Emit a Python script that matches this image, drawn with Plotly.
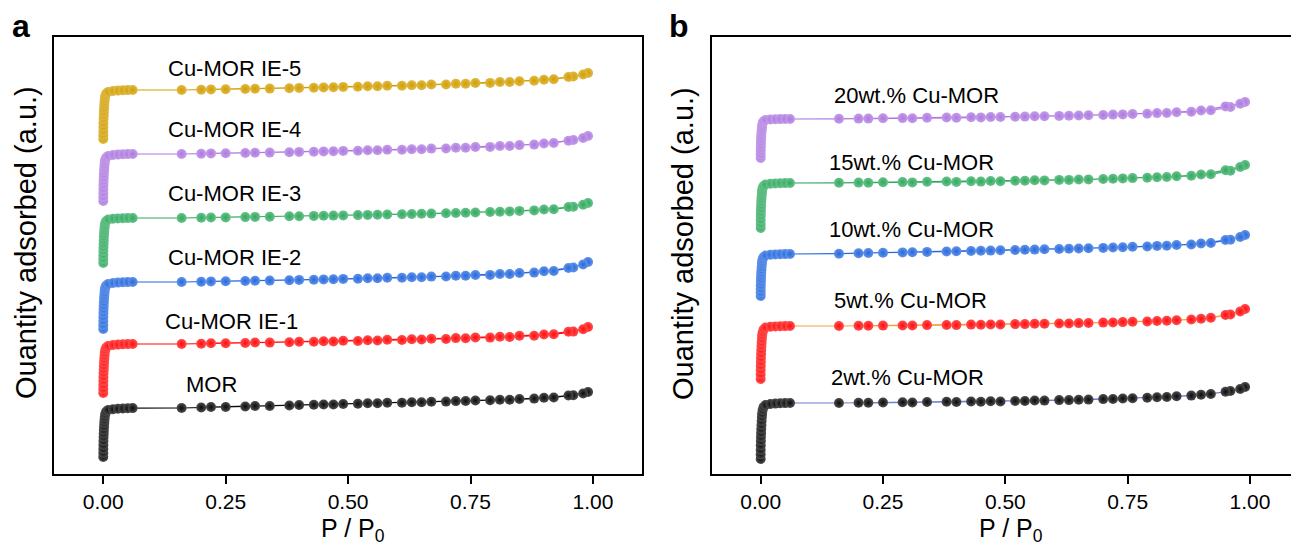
import plotly.graph_objects as go

# ---------------- shared relative-pressure grids (P/P0) ----------------
P_LOW = [0.00002, 0.00005, 0.0001, 0.0002, 0.0004, 0.0006, 0.0009, 0.0012, 0.0016, 0.002,
         0.0025, 0.003, 0.004, 0.006, 0.01, 0.02, 0.03, 0.04, 0.05, 0.06]
P_ADS = [0.16, 0.20, 0.25, 0.29, 0.34, 0.38, 0.43, 0.47, 0.52, 0.56,
         0.61, 0.65, 0.70, 0.74, 0.79, 0.83, 0.88, 0.92, 0.96, 0.99]
P_DES = [0.98, 0.95, 0.90, 0.85, 0.81, 0.76, 0.72, 0.67, 0.63, 0.58,
         0.54, 0.49, 0.45, 0.40, 0.31, 0.22]

X_TICKS = [0.0, 0.25, 0.5, 0.75, 1.0]
X_TICK_LABELS = ["0.00", "0.25", "0.50", "0.75", "1.00"]

# ---------------- panel a : quantity adsorbed (a.u.) ----------------
A_NAMES = ["MOR", "Cu-MOR IE-1", "Cu-MOR IE-2", "Cu-MOR IE-3", "Cu-MOR IE-4", "Cu-MOR IE-5"]

MOR_LOW = [0, 4, 8, 12, 16, 20, 23.5, 27, 30.5, 34, 37, 40, 43, 45.5, 47, 47.8, 48.2, 48.5, 48.7, 48.9]
MOR_ADS = [49, 49.5, 50.1, 50.5, 51.1, 51.6, 52.2, 52.6, 53.2, 53.7, 54.3, 54.8, 55.4, 56, 56.7, 57.3, 58.4, 59.6, 61.8, 65]
MOR_DES = [63.6, 61.5, 59.3, 58, 57.2, 56.5, 55.9, 55.3, 54.8, 54.2, 53.7, 53.1, 52.6, 52, 51, 50]

IE1_LOW = [0, 4, 8, 12, 16, 20, 23.5, 27, 30.5, 34, 37, 40, 43, 45.5, 47, 48, 48.4, 48.7, 48.9, 49]
IE1_ADS = [49, 49.3, 49.7, 50, 50.4, 50.8, 51.2, 51.6, 52.1, 52.5, 53, 53.5, 54.1, 54.7, 55.4, 56.1, 57.3, 58.7, 61.4, 66]
IE1_DES = [63.8, 61.2, 58.6, 57.2, 56.3, 55.5, 54.9, 54.3, 53.8, 53.2, 52.8, 52.3, 51.8, 51.3, 50.5, 49.8]

IE2_LOW = [0, 4, 8, 12, 16, 19.5, 23, 26.5, 30, 33, 36, 39, 41.5, 43.5, 45, 46, 46.4, 46.7, 46.9, 47]
IE2_ADS = [47, 47.3, 47.7, 48, 48.4, 48.8, 49.3, 49.7, 50.2, 50.7, 51.3, 51.8, 52.5, 53.2, 54.1, 55, 56.4, 58, 61.5, 67]
IE2_DES = [64.5, 61, 57.8, 56, 55, 54, 53.2, 52.4, 51.8, 51.2, 50.7, 50.1, 49.6, 49.1, 48.3, 47.6]

IE3_LOW = [0, 4, 8, 12, 15.5, 19, 22.5, 26, 29, 32, 35, 37.5, 40, 42, 43.5, 44.3, 44.6, 44.8, 44.9, 45]
IE3_ADS = [45, 45.3, 45.6, 45.9, 46.3, 46.7, 47.1, 47.4, 47.9, 48.3, 48.8, 49.2, 49.8, 50.3, 51, 51.6, 52.6, 53.8, 56.2, 60]
IE3_DES = [58.3, 56, 53.5, 52.1, 51.3, 50.5, 50, 49.4, 49, 48.5, 48.1, 47.6, 47.2, 46.8, 46.1, 45.5]

IE4_LOW = [0, 4, 8, 12, 16, 19.5, 23, 26.5, 30, 33, 36, 39, 41.5, 43.5, 45, 46, 46.4, 46.7, 46.9, 47]
IE4_ADS = [47, 47.3, 47.7, 48, 48.4, 48.8, 49.3, 49.7, 50.2, 50.7, 51.3, 51.8, 52.5, 53.2, 54.1, 55, 56.4, 58, 61, 65]
IE4_DES = [63, 60.3, 57.5, 55.9, 55, 54, 53.2, 52.4, 51.8, 51.2, 50.7, 50.1, 49.6, 49.1, 48.3, 47.6]

IE5_LOW = [0, 4, 8, 12, 16, 20, 23.5, 27, 30.5, 34, 37, 40, 43, 45.5, 47, 48, 48.4, 48.7, 48.9, 49]
IE5_ADS = [49, 49.3, 49.7, 50, 50.4, 50.8, 51.3, 51.7, 52.2, 52.7, 53.3, 53.8, 54.5, 55.2, 56.1, 57, 58.3, 59.8, 62.4, 66]
IE5_DES = [64.5, 62, 59.3, 57.8, 56.9, 56, 55.2, 54.4, 53.8, 53.2, 52.7, 52.1, 51.6, 51.1, 50.3, 49.6]

# ---------------- panel b ----------------
B_NAMES = ["2wt.% Cu-MOR", "5wt.% Cu-MOR", "10wt.% Cu-MOR", "15wt.% Cu-MOR", "20wt.% Cu-MOR"]

W2_LOW = [0, 4.5, 9, 13.5, 18, 22, 26, 30, 34, 38, 42, 45.5, 49, 52, 54, 55, 55.4, 55.7, 55.9, 56]
W2_ADS = [56, 56.2, 56.5, 56.7, 57, 57.3, 57.6, 57.8, 58.1, 58.5, 58.9, 59.3, 59.9, 60.5, 61.3, 62.1, 63.4, 65, 68, 72]
W2_DES = [70, 67.2, 64.3, 62.7, 61.8, 60.8, 60.1, 59.4, 58.9, 58.4, 58, 57.6, 57.3, 57, 56.5, 56.2]

W5_LOW = [0, 4.5, 9, 13, 17, 21, 25, 29, 33, 36.5, 40, 43.5, 46.5, 49.5, 51.5, 52.3, 52.6, 52.8, 52.9, 53]
W5_ADS = [53, 53.2, 53.4, 53.6, 53.9, 54.1, 54.4, 54.6, 54.9, 55.2, 55.6, 55.9, 56.4, 56.9, 57.6, 58.3, 59.5, 61.2, 64.5, 70]
W5_DES = [67.5, 64, 60.2, 58.8, 58, 57.2, 56.6, 56, 55.6, 55.2, 54.9, 54.5, 54.2, 53.9, 53.5, 53.2]

W10_LOW = [0, 3.5, 7, 10.5, 14, 17, 20, 23, 26, 29, 32, 34.5, 37, 39, 40.5, 41.3, 41.6, 41.8, 41.9, 42]
W10_ADS = [42.3, 42.7, 43.2, 43.6, 44.1, 44.5, 45, 45.4, 46, 46.4, 47, 47.5, 48.1, 48.7, 49.5, 50.3, 51.5, 53, 56.3, 61]
W10_DES = [59, 56, 52.5, 51, 50.1, 49.2, 48.5, 47.8, 47.2, 46.7, 46.2, 45.7, 45.2, 44.7, 43.8, 43]

W15_LOW = [0, 4, 8, 12, 15.5, 19, 22.5, 26, 29, 32, 35, 37.5, 40, 42, 43.5, 44.3, 44.6, 44.8, 44.9, 45]
W15_ADS = [45.2, 45.4, 45.7, 45.9, 46.2, 46.5, 46.8, 47, 47.3, 47.7, 48.1, 48.5, 49, 49.6, 50.3, 51, 52.2, 53.7, 57.3, 63]
W15_DES = [61, 57.8, 53.5, 51.7, 50.8, 49.9, 49.3, 48.6, 48.1, 47.6, 47.2, 46.8, 46.4, 46.1, 45.6, 45.3]

W20_LOW = [0, 3.5, 7, 10, 13, 16, 19, 22, 25, 27.5, 30, 32.5, 35, 36.8, 38, 38.6, 38.8, 38.9, 39, 39]
W20_ADS = [39.2, 39.4, 39.7, 39.9, 40.2, 40.5, 40.8, 41, 41.3, 41.7, 42.1, 42.5, 43, 43.6, 44.3, 45, 46.2, 47.7, 51, 56]
W20_DES = [54.3, 51.6, 47.5, 45.8, 44.9, 44, 43.4, 42.8, 42.3, 41.8, 41.4, 41, 40.6, 40.2, 39.7, 39.4]

# ---------------- styling (display offsets, colours) ----------------
A_SERIES = [(MOR_LOW, MOR_ADS, MOR_DES), (IE1_LOW, IE1_ADS, IE1_DES), (IE2_LOW, IE2_ADS, IE2_DES),
            (IE3_LOW, IE3_ADS, IE3_DES), (IE4_LOW, IE4_ADS, IE4_DES), (IE5_LOW, IE5_ADS, IE5_DES)]
B_SERIES = [(W2_LOW, W2_ADS, W2_DES), (W5_LOW, W5_ADS, W5_DES), (W10_LOW, W10_ADS, W10_DES),
            (W15_LOW, W15_ADS, W15_DES), (W20_LOW, W20_ADS, W20_DES)]

A_OFFSETS = [16.5, 80.5, 144.5, 210.5, 272.5, 334.5]
B_OFFSETS = [14.5, 94.5, 177.5, 245.5, 315.5]

BLACK, RED, BLUE, GREEN, PURPLE, GOLD = "#0a0a0a", "#ff0c0c", "#2669de", "#30a95f", "#ad78e0", "#d29e00"
A_MARK = [BLACK, RED, BLUE, GREEN, PURPLE, GOLD]
A_LINE = [BLACK, RED, BLUE, GREEN, PURPLE, GOLD]
B_MARK = [BLACK, RED, BLUE, GREEN, PURPLE]
B_LINE = ["#6f7fd0", "#f3a23c", BLUE, GREEN, PURPLE]

# label anchor (left edge x in P/P0, y in a.u.)
A_LABEL_POS = [(0.165, 89.5), (0.122, 152.5), (0.128, 216), (0.128, 280.5), (0.128, 343.5), (0.128, 404.5)]
B_LABEL_POS = [(0.1396, 96.5), (0.1457, 173.5), (0.1355, 244.5), (0.1355, 310.5), (0.1457, 377.5)]

FONT = "Liberation Sans, Arial, sans-serif"


def lighten(hex_color, f):
    h = hex_color.lstrip("#")
    r, g, b = int(h[0:2], 16), int(h[2:4], 16), int(h[4:6], 16)
    r = int(r + (255 - r) * f)
    g = int(g + (255 - g) * f)
    b = int(b + (255 - b) * f)
    return "#%02x%02x%02x" % (r, g, b)


fig = go.Figure()


def add_series(series, offsets, mcolors, lcolors, xa, ya):
    for (low, ads, des), off, mc, lc in zip(series, offsets, mcolors, lcolors):
        xs = P_LOW + P_ADS + P_DES
        ys = [off + v for v in (low + ads + des)]
        fig.add_trace(go.Scatter(
            x=xs, y=ys, mode="lines+markers", xaxis=xa, yaxis=ya, showlegend=False,
            line=dict(color=lc, width=1.2),
            marker=dict(size=10, color=lighten(mc, 0.28), line=dict(width=0),
                        gradient=dict(type="radial", color=mc)),
        ))


add_series(A_SERIES, A_OFFSETS, A_MARK, A_LINE, "x", "y")
add_series(B_SERIES, B_OFFSETS, B_MARK, B_LINE, "x2", "y2")

annotations = []
for name, (lx, ly) in zip(A_NAMES, A_LABEL_POS):
    annotations.append(dict(x=lx, y=ly, xref="x", yref="y", text=name, showarrow=False,
                            xanchor="left", yanchor="middle", font=dict(size=22, color="black", family=FONT)))
for name, (lx, ly) in zip(B_NAMES, B_LABEL_POS):
    annotations.append(dict(x=lx, y=ly, xref="x2", yref="y2", text=name, showarrow=False,
                            xanchor="left", yanchor="middle", font=dict(size=22, color="black", family=FONT)))

W, H = 1291, 548
for px, txt in [(21, "a"), (679, "b")]:
    annotations.append(dict(x=px / W, y=(H - 26) / H, xref="paper", yref="paper", text="<b>%s</b>" % txt,
                            showarrow=False, xanchor="center", yanchor="middle",
                            font=dict(size=32, color="black", family=FONT)))
for px in [26, 683]:
    annotations.append(dict(x=px / W, y=(H - 243) / H, xref="paper", yref="paper",
                            text="Ouantity adsorbed (a.u.)", textangle=-90, showarrow=False,
                            xanchor="center", yanchor="middle",
                            font=dict(size=29, color="black", family=FONT)))
for px in [353, 1011]:
    annotations.append(dict(x=px / W, y=(H - 530) / H, xref="paper", yref="paper",
                            text="P / P<sub>0</sub>", showarrow=False,
                            xanchor="center", yanchor="middle",
                            font=dict(size=25, color="black", family=FONT)))

xcommon = dict(tickvals=X_TICKS, ticktext=X_TICK_LABELS, ticks="outside", ticklen=8, tickwidth=2,
               tickcolor="black", showline=True, linewidth=2, linecolor="black", mirror=True,
               showgrid=False, zeroline=False, tickfont=dict(size=21, color="black", family=FONT))
ycommon = dict(range=[0, 436], showticklabels=False, ticks="", showline=True, linewidth=2,
               linecolor="black", showgrid=False, zeroline=False, domain=[0.1359, 0.9316])

fig.update_layout(
    width=W, height=H, margin=dict(l=0, r=0, t=0, b=0),
    paper_bgcolor="white", plot_bgcolor="white",
    xaxis=dict(xcommon, domain=[0.04206, 0.49721], range=[-0.1, 1.1], anchor="y"),
    yaxis=dict(ycommon, anchor="x", mirror=True),
    xaxis2=dict(xcommon, domain=[0.5513, 1.0], range=[-0.1, 1.0838], anchor="y2"),
    yaxis2=dict(ycommon, anchor="x2", mirror=False),
    annotations=annotations,
)

fig.write_html("out.html")
